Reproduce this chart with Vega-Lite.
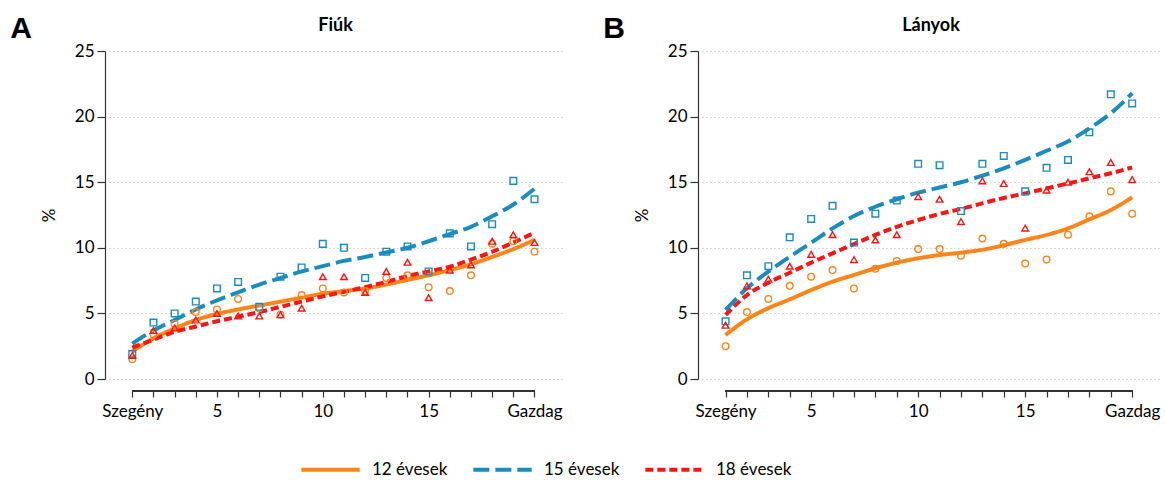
{
  "$schema": "https://vega.github.io/schema/vega-lite/v6.json",
  "background": "white",
  "padding": {"left": 10, "top": 14, "right": 5, "bottom": 5},
  "datasets": {
    "pontok": [
      {"nem": "Fiúk", "kor": "12 évesek", "x": 1, "y": 1.5}, {"nem": "Fiúk", "kor": "12 évesek", "x": 2, "y": 3.4}, {"nem": "Fiúk", "kor": "12 évesek", "x": 3, "y": 4.2}, {"nem": "Fiúk", "kor": "12 évesek", "x": 4, "y": 5.1}, {"nem": "Fiúk", "kor": "12 évesek", "x": 5, "y": 5.3}, {"nem": "Fiúk", "kor": "12 évesek", "x": 6, "y": 6.1}, {"nem": "Fiúk", "kor": "12 évesek", "x": 7, "y": 5.4}, {"nem": "Fiúk", "kor": "12 évesek", "x": 8, "y": 4.9}, {"nem": "Fiúk", "kor": "12 évesek", "x": 9, "y": 6.4}, {"nem": "Fiúk", "kor": "12 évesek", "x": 10, "y": 6.9},
      {"nem": "Fiúk", "kor": "12 évesek", "x": 11, "y": 6.6}, {"nem": "Fiúk", "kor": "12 évesek", "x": 12, "y": 6.7}, {"nem": "Fiúk", "kor": "12 évesek", "x": 13, "y": 7.7}, {"nem": "Fiúk", "kor": "12 évesek", "x": 14, "y": 7.9}, {"nem": "Fiúk", "kor": "12 évesek", "x": 15, "y": 7.0}, {"nem": "Fiúk", "kor": "12 évesek", "x": 16, "y": 6.7}, {"nem": "Fiúk", "kor": "12 évesek", "x": 17, "y": 7.9}, {"nem": "Fiúk", "kor": "12 évesek", "x": 18, "y": 10.3}, {"nem": "Fiúk", "kor": "12 évesek", "x": 19, "y": 10.5}, {"nem": "Fiúk", "kor": "12 évesek", "x": 20, "y": 9.7},
      {"nem": "Fiúk", "kor": "15 évesek", "x": 1, "y": 1.9}, {"nem": "Fiúk", "kor": "15 évesek", "x": 2, "y": 4.3}, {"nem": "Fiúk", "kor": "15 évesek", "x": 3, "y": 5.0}, {"nem": "Fiúk", "kor": "15 évesek", "x": 4, "y": 5.9}, {"nem": "Fiúk", "kor": "15 évesek", "x": 5, "y": 6.9}, {"nem": "Fiúk", "kor": "15 évesek", "x": 6, "y": 7.4}, {"nem": "Fiúk", "kor": "15 évesek", "x": 7, "y": 5.5}, {"nem": "Fiúk", "kor": "15 évesek", "x": 8, "y": 7.8}, {"nem": "Fiúk", "kor": "15 évesek", "x": 9, "y": 8.5}, {"nem": "Fiúk", "kor": "15 évesek", "x": 10, "y": 10.3},
      {"nem": "Fiúk", "kor": "15 évesek", "x": 11, "y": 10.0}, {"nem": "Fiúk", "kor": "15 évesek", "x": 12, "y": 7.7}, {"nem": "Fiúk", "kor": "15 évesek", "x": 13, "y": 9.7}, {"nem": "Fiúk", "kor": "15 évesek", "x": 14, "y": 10.1}, {"nem": "Fiúk", "kor": "15 évesek", "x": 15, "y": 8.2}, {"nem": "Fiúk", "kor": "15 évesek", "x": 16, "y": 11.1}, {"nem": "Fiúk", "kor": "15 évesek", "x": 17, "y": 10.1}, {"nem": "Fiúk", "kor": "15 évesek", "x": 18, "y": 11.8}, {"nem": "Fiúk", "kor": "15 évesek", "x": 19, "y": 15.1}, {"nem": "Fiúk", "kor": "15 évesek", "x": 20, "y": 13.7},
      {"nem": "Fiúk", "kor": "18 évesek", "x": 1, "y": 1.8}, {"nem": "Fiúk", "kor": "18 évesek", "x": 2, "y": 3.7}, {"nem": "Fiúk", "kor": "18 évesek", "x": 3, "y": 3.9}, {"nem": "Fiúk", "kor": "18 évesek", "x": 4, "y": 4.5}, {"nem": "Fiúk", "kor": "18 évesek", "x": 5, "y": 5.0}, {"nem": "Fiúk", "kor": "18 évesek", "x": 6, "y": 4.8}, {"nem": "Fiúk", "kor": "18 évesek", "x": 7, "y": 4.8}, {"nem": "Fiúk", "kor": "18 évesek", "x": 8, "y": 4.9}, {"nem": "Fiúk", "kor": "18 évesek", "x": 9, "y": 5.4}, {"nem": "Fiúk", "kor": "18 évesek", "x": 10, "y": 7.8},
      {"nem": "Fiúk", "kor": "18 évesek", "x": 11, "y": 7.8}, {"nem": "Fiúk", "kor": "18 évesek", "x": 12, "y": 6.6}, {"nem": "Fiúk", "kor": "18 évesek", "x": 13, "y": 8.2}, {"nem": "Fiúk", "kor": "18 évesek", "x": 14, "y": 8.9}, {"nem": "Fiúk", "kor": "18 évesek", "x": 15, "y": 6.2}, {"nem": "Fiúk", "kor": "18 évesek", "x": 16, "y": 8.3}, {"nem": "Fiúk", "kor": "18 évesek", "x": 17, "y": 8.7}, {"nem": "Fiúk", "kor": "18 évesek", "x": 18, "y": 10.5}, {"nem": "Fiúk", "kor": "18 évesek", "x": 19, "y": 11.0}, {"nem": "Fiúk", "kor": "18 évesek", "x": 20, "y": 10.4},
      {"nem": "Lányok", "kor": "12 évesek", "x": 1, "y": 2.5}, {"nem": "Lányok", "kor": "12 évesek", "x": 2, "y": 5.1}, {"nem": "Lányok", "kor": "12 évesek", "x": 3, "y": 6.1}, {"nem": "Lányok", "kor": "12 évesek", "x": 4, "y": 7.1}, {"nem": "Lányok", "kor": "12 évesek", "x": 5, "y": 7.8}, {"nem": "Lányok", "kor": "12 évesek", "x": 6, "y": 8.3}, {"nem": "Lányok", "kor": "12 évesek", "x": 7, "y": 6.9}, {"nem": "Lányok", "kor": "12 évesek", "x": 8, "y": 8.4}, {"nem": "Lányok", "kor": "12 évesek", "x": 9, "y": 9.0}, {"nem": "Lányok", "kor": "12 évesek", "x": 10, "y": 9.9},
      {"nem": "Lányok", "kor": "12 évesek", "x": 11, "y": 9.9}, {"nem": "Lányok", "kor": "12 évesek", "x": 12, "y": 9.4}, {"nem": "Lányok", "kor": "12 évesek", "x": 13, "y": 10.7}, {"nem": "Lányok", "kor": "12 évesek", "x": 14, "y": 10.3}, {"nem": "Lányok", "kor": "12 évesek", "x": 15, "y": 8.8}, {"nem": "Lányok", "kor": "12 évesek", "x": 16, "y": 9.1}, {"nem": "Lányok", "kor": "12 évesek", "x": 17, "y": 11.0}, {"nem": "Lányok", "kor": "12 évesek", "x": 18, "y": 12.4}, {"nem": "Lányok", "kor": "12 évesek", "x": 19, "y": 14.3}, {"nem": "Lányok", "kor": "12 évesek", "x": 20, "y": 12.6},
      {"nem": "Lányok", "kor": "15 évesek", "x": 1, "y": 4.4}, {"nem": "Lányok", "kor": "15 évesek", "x": 2, "y": 7.9}, {"nem": "Lányok", "kor": "15 évesek", "x": 3, "y": 8.6}, {"nem": "Lányok", "kor": "15 évesek", "x": 4, "y": 10.8}, {"nem": "Lányok", "kor": "15 évesek", "x": 5, "y": 12.2}, {"nem": "Lányok", "kor": "15 évesek", "x": 6, "y": 13.2}, {"nem": "Lányok", "kor": "15 évesek", "x": 7, "y": 10.4}, {"nem": "Lányok", "kor": "15 évesek", "x": 8, "y": 12.6}, {"nem": "Lányok", "kor": "15 évesek", "x": 9, "y": 13.6}, {"nem": "Lányok", "kor": "15 évesek", "x": 10, "y": 16.4},
      {"nem": "Lányok", "kor": "15 évesek", "x": 11, "y": 16.3}, {"nem": "Lányok", "kor": "15 évesek", "x": 12, "y": 12.8}, {"nem": "Lányok", "kor": "15 évesek", "x": 13, "y": 16.4}, {"nem": "Lányok", "kor": "15 évesek", "x": 14, "y": 17.0}, {"nem": "Lányok", "kor": "15 évesek", "x": 15, "y": 14.3}, {"nem": "Lányok", "kor": "15 évesek", "x": 16, "y": 16.1}, {"nem": "Lányok", "kor": "15 évesek", "x": 17, "y": 16.7}, {"nem": "Lányok", "kor": "15 évesek", "x": 18, "y": 18.8}, {"nem": "Lányok", "kor": "15 évesek", "x": 19, "y": 21.7}, {"nem": "Lányok", "kor": "15 évesek", "x": 20, "y": 21.0},
      {"nem": "Lányok", "kor": "18 évesek", "x": 1, "y": 4.1}, {"nem": "Lányok", "kor": "18 évesek", "x": 2, "y": 7.1}, {"nem": "Lányok", "kor": "18 évesek", "x": 3, "y": 7.6}, {"nem": "Lányok", "kor": "18 évesek", "x": 4, "y": 8.6}, {"nem": "Lányok", "kor": "18 évesek", "x": 5, "y": 9.5}, {"nem": "Lányok", "kor": "18 évesek", "x": 6, "y": 11.0}, {"nem": "Lányok", "kor": "18 évesek", "x": 7, "y": 9.1}, {"nem": "Lányok", "kor": "18 évesek", "x": 8, "y": 10.6}, {"nem": "Lányok", "kor": "18 évesek", "x": 9, "y": 11.0}, {"nem": "Lányok", "kor": "18 évesek", "x": 10, "y": 13.9},
      {"nem": "Lányok", "kor": "18 évesek", "x": 11, "y": 13.7}, {"nem": "Lányok", "kor": "18 évesek", "x": 12, "y": 12.0}, {"nem": "Lányok", "kor": "18 évesek", "x": 13, "y": 15.1}, {"nem": "Lányok", "kor": "18 évesek", "x": 14, "y": 14.9}, {"nem": "Lányok", "kor": "18 évesek", "x": 15, "y": 11.5}, {"nem": "Lányok", "kor": "18 évesek", "x": 16, "y": 14.4}, {"nem": "Lányok", "kor": "18 évesek", "x": 17, "y": 15.0}, {"nem": "Lányok", "kor": "18 évesek", "x": 18, "y": 15.8}, {"nem": "Lányok", "kor": "18 évesek", "x": 19, "y": 16.5}, {"nem": "Lányok", "kor": "18 évesek", "x": 20, "y": 15.2}
    ],
    "gorbek": [
      {"nem": "Fiúk", "kor": "12 évesek", "x": 1, "y": 2.1}, {"nem": "Fiúk", "kor": "12 évesek", "x": 2, "y": 3.1}, {"nem": "Fiúk", "kor": "12 évesek", "x": 3, "y": 3.85}, {"nem": "Fiúk", "kor": "12 évesek", "x": 4, "y": 4.5}, {"nem": "Fiúk", "kor": "12 évesek", "x": 5, "y": 4.95}, {"nem": "Fiúk", "kor": "12 évesek", "x": 6, "y": 5.3}, {"nem": "Fiúk", "kor": "12 évesek", "x": 7, "y": 5.6}, {"nem": "Fiúk", "kor": "12 évesek", "x": 8, "y": 5.9}, {"nem": "Fiúk", "kor": "12 évesek", "x": 9, "y": 6.2}, {"nem": "Fiúk", "kor": "12 évesek", "x": 10, "y": 6.5},
      {"nem": "Fiúk", "kor": "12 évesek", "x": 11, "y": 6.7}, {"nem": "Fiúk", "kor": "12 évesek", "x": 12, "y": 6.9}, {"nem": "Fiúk", "kor": "12 évesek", "x": 13, "y": 7.2}, {"nem": "Fiúk", "kor": "12 évesek", "x": 14, "y": 7.55}, {"nem": "Fiúk", "kor": "12 évesek", "x": 15, "y": 7.9}, {"nem": "Fiúk", "kor": "12 évesek", "x": 16, "y": 8.3}, {"nem": "Fiúk", "kor": "12 évesek", "x": 17, "y": 8.75}, {"nem": "Fiúk", "kor": "12 évesek", "x": 18, "y": 9.3}, {"nem": "Fiúk", "kor": "12 évesek", "x": 19, "y": 9.9}, {"nem": "Fiúk", "kor": "12 évesek", "x": 20, "y": 10.6},
      {"nem": "Fiúk", "kor": "15 évesek", "x": 1, "y": 2.7}, {"nem": "Fiúk", "kor": "15 évesek", "x": 2, "y": 3.7}, {"nem": "Fiúk", "kor": "15 évesek", "x": 3, "y": 4.5}, {"nem": "Fiúk", "kor": "15 évesek", "x": 4, "y": 5.3}, {"nem": "Fiúk", "kor": "15 évesek", "x": 5, "y": 6.0}, {"nem": "Fiúk", "kor": "15 évesek", "x": 6, "y": 6.6}, {"nem": "Fiúk", "kor": "15 évesek", "x": 7, "y": 7.2}, {"nem": "Fiúk", "kor": "15 évesek", "x": 8, "y": 7.7}, {"nem": "Fiúk", "kor": "15 évesek", "x": 9, "y": 8.2}, {"nem": "Fiúk", "kor": "15 évesek", "x": 10, "y": 8.6},
      {"nem": "Fiúk", "kor": "15 évesek", "x": 11, "y": 9.0}, {"nem": "Fiúk", "kor": "15 évesek", "x": 12, "y": 9.3}, {"nem": "Fiúk", "kor": "15 évesek", "x": 13, "y": 9.65}, {"nem": "Fiúk", "kor": "15 évesek", "x": 14, "y": 10.0}, {"nem": "Fiúk", "kor": "15 évesek", "x": 15, "y": 10.5}, {"nem": "Fiúk", "kor": "15 évesek", "x": 16, "y": 11.05}, {"nem": "Fiúk", "kor": "15 évesek", "x": 17, "y": 11.6}, {"nem": "Fiúk", "kor": "15 évesek", "x": 18, "y": 12.4}, {"nem": "Fiúk", "kor": "15 évesek", "x": 19, "y": 13.3}, {"nem": "Fiúk", "kor": "15 évesek", "x": 20, "y": 14.5},
      {"nem": "Fiúk", "kor": "18 évesek", "x": 1, "y": 2.4}, {"nem": "Fiúk", "kor": "18 évesek", "x": 2, "y": 3.0}, {"nem": "Fiúk", "kor": "18 évesek", "x": 3, "y": 3.6}, {"nem": "Fiúk", "kor": "18 évesek", "x": 4, "y": 4.0}, {"nem": "Fiúk", "kor": "18 évesek", "x": 5, "y": 4.4}, {"nem": "Fiúk", "kor": "18 évesek", "x": 6, "y": 4.75}, {"nem": "Fiúk", "kor": "18 évesek", "x": 7, "y": 5.1}, {"nem": "Fiúk", "kor": "18 évesek", "x": 8, "y": 5.5}, {"nem": "Fiúk", "kor": "18 évesek", "x": 9, "y": 5.9}, {"nem": "Fiúk", "kor": "18 évesek", "x": 10, "y": 6.3},
      {"nem": "Fiúk", "kor": "18 évesek", "x": 11, "y": 6.65}, {"nem": "Fiúk", "kor": "18 évesek", "x": 12, "y": 7.0}, {"nem": "Fiúk", "kor": "18 évesek", "x": 13, "y": 7.4}, {"nem": "Fiúk", "kor": "18 évesek", "x": 14, "y": 7.85}, {"nem": "Fiúk", "kor": "18 évesek", "x": 15, "y": 8.2}, {"nem": "Fiúk", "kor": "18 évesek", "x": 16, "y": 8.56}, {"nem": "Fiúk", "kor": "18 évesek", "x": 17, "y": 9.1}, {"nem": "Fiúk", "kor": "18 évesek", "x": 18, "y": 9.7}, {"nem": "Fiúk", "kor": "18 évesek", "x": 19, "y": 10.4}, {"nem": "Fiúk", "kor": "18 évesek", "x": 20, "y": 11.15},
      {"nem": "Lányok", "kor": "12 évesek", "x": 1, "y": 3.35}, {"nem": "Lányok", "kor": "12 évesek", "x": 2, "y": 4.55}, {"nem": "Lányok", "kor": "12 évesek", "x": 3, "y": 5.4}, {"nem": "Lányok", "kor": "12 évesek", "x": 4, "y": 6.07}, {"nem": "Lányok", "kor": "12 évesek", "x": 5, "y": 6.78}, {"nem": "Lányok", "kor": "12 évesek", "x": 6, "y": 7.42}, {"nem": "Lányok", "kor": "12 évesek", "x": 7, "y": 7.93}, {"nem": "Lányok", "kor": "12 évesek", "x": 8, "y": 8.44}, {"nem": "Lányok", "kor": "12 évesek", "x": 9, "y": 8.87}, {"nem": "Lányok", "kor": "12 évesek", "x": 10, "y": 9.2},
      {"nem": "Lányok", "kor": "12 évesek", "x": 11, "y": 9.45}, {"nem": "Lányok", "kor": "12 évesek", "x": 12, "y": 9.63}, {"nem": "Lányok", "kor": "12 évesek", "x": 13, "y": 9.85}, {"nem": "Lányok", "kor": "12 évesek", "x": 14, "y": 10.2}, {"nem": "Lányok", "kor": "12 évesek", "x": 15, "y": 10.6}, {"nem": "Lányok", "kor": "12 évesek", "x": 16, "y": 10.98}, {"nem": "Lányok", "kor": "12 évesek", "x": 17, "y": 11.48}, {"nem": "Lányok", "kor": "12 évesek", "x": 18, "y": 12.17}, {"nem": "Lányok", "kor": "12 évesek", "x": 19, "y": 12.88}, {"nem": "Lányok", "kor": "12 évesek", "x": 20, "y": 13.85},
      {"nem": "Lányok", "kor": "15 évesek", "x": 1, "y": 5.26}, {"nem": "Lányok", "kor": "15 évesek", "x": 2, "y": 6.91}, {"nem": "Lányok", "kor": "15 évesek", "x": 3, "y": 8.18}, {"nem": "Lányok", "kor": "15 évesek", "x": 4, "y": 9.32}, {"nem": "Lányok", "kor": "15 évesek", "x": 5, "y": 10.39}, {"nem": "Lányok", "kor": "15 évesek", "x": 6, "y": 11.48}, {"nem": "Lányok", "kor": "15 évesek", "x": 7, "y": 12.42}, {"nem": "Lányok", "kor": "15 évesek", "x": 8, "y": 13.13}, {"nem": "Lányok", "kor": "15 évesek", "x": 9, "y": 13.7}, {"nem": "Lányok", "kor": "15 évesek", "x": 10, "y": 14.2},
      {"nem": "Lányok", "kor": "15 évesek", "x": 11, "y": 14.6}, {"nem": "Lányok", "kor": "15 évesek", "x": 12, "y": 15.0}, {"nem": "Lányok", "kor": "15 évesek", "x": 13, "y": 15.5}, {"nem": "Lányok", "kor": "15 évesek", "x": 14, "y": 16.06}, {"nem": "Lányok", "kor": "15 évesek", "x": 15, "y": 16.7}, {"nem": "Lányok", "kor": "15 évesek", "x": 16, "y": 17.4}, {"nem": "Lányok", "kor": "15 évesek", "x": 17, "y": 18.1}, {"nem": "Lányok", "kor": "15 évesek", "x": 18, "y": 19.1}, {"nem": "Lányok", "kor": "15 évesek", "x": 19, "y": 20.25}, {"nem": "Lányok", "kor": "15 évesek", "x": 20, "y": 21.78},
      {"nem": "Lányok", "kor": "18 évesek", "x": 1, "y": 4.88}, {"nem": "Lányok", "kor": "18 évesek", "x": 2, "y": 6.4}, {"nem": "Lányok", "kor": "18 évesek", "x": 3, "y": 7.34}, {"nem": "Lányok", "kor": "18 évesek", "x": 4, "y": 8.1}, {"nem": "Lányok", "kor": "18 évesek", "x": 5, "y": 8.87}, {"nem": "Lányok", "kor": "18 évesek", "x": 6, "y": 9.58}, {"nem": "Lányok", "kor": "18 évesek", "x": 7, "y": 10.29}, {"nem": "Lányok", "kor": "18 évesek", "x": 8, "y": 10.98}, {"nem": "Lányok", "kor": "18 évesek", "x": 9, "y": 11.6}, {"nem": "Lányok", "kor": "18 évesek", "x": 10, "y": 12.12},
      {"nem": "Lányok", "kor": "18 évesek", "x": 11, "y": 12.58}, {"nem": "Lányok", "kor": "18 évesek", "x": 12, "y": 12.96}, {"nem": "Lányok", "kor": "18 évesek", "x": 13, "y": 13.39}, {"nem": "Lányok", "kor": "18 évesek", "x": 14, "y": 13.8}, {"nem": "Lányok", "kor": "18 évesek", "x": 15, "y": 14.15}, {"nem": "Lányok", "kor": "18 évesek", "x": 16, "y": 14.53}, {"nem": "Lányok", "kor": "18 évesek", "x": 17, "y": 14.9}, {"nem": "Lányok", "kor": "18 évesek", "x": 18, "y": 15.3}, {"nem": "Lányok", "kor": "18 évesek", "x": 19, "y": 15.68}, {"nem": "Lányok", "kor": "18 évesek", "x": 20, "y": 16.13}
    ]
  },
  "config": {
    "font": "Lato",
    "view": {"stroke": null},
    "axis": {
      "labelFont": "Lato", "labelFontSize": 17, "labelColor": "#000",
      "titleFont": "Lato", "titleFontSize": 17, "titleFontWeight": "normal", "titleColor": "#000",
      "domainColor": "#333", "tickColor": "#333", "domainWidth": 1.2, "tickWidth": 1.2,
      "gridColor": "#b0b0b0", "gridDash": [1, 3], "gridWidth": 1
    },
    "title": {"font": "Lato", "fontSize": 18, "fontWeight": "bold", "color": "#000"},
    "legend": {"labelFont": "Lato", "labelFontSize": 17, "labelColor": "#000"},
    "point": {"filled": false, "strokeWidth": 1.4, "size": 44, "opacity": 1}
  },
  "spacing": 40,
  "hconcat": [
    {
      "title": {"text": "A", "anchor": "start", "frame": "bounds", "font": "Liberation Sans", "fontSize": 30, "fontWeight": "bold", "dx": -30, "dy": 27, "offset": 0},
      "vconcat": [
        {
          "title": {"text": "Fiúk", "offset": 7},
          "width": 453,
          "height": 328,
          "data": {"name": "pontok"},
          "transform": [{"filter": "datum.nem === 'Fiúk'"}],
          "encoding": {
            "x": {"field": "x", "type": "quantitative", "scale": {"domain": [-0.1, 21.3], "nice": false, "zero": false},
              "axis": {"title": null, "values": [1,2,3,4,5,6,7,8,9,10,11,12,13,14,15,16,17,18,19,20], "tickCount": 40, "labelExpr": "datum.value == 1 ? 'Szegény' : datum.value == 20 ? 'Gazdag' : (datum.value % 5 == 0 ? '' + datum.value : '')", "labelOverlap": false, "labelFlush": false, "offset": 12, "tickSize": 6, "domain": false, "grid": false, "labelPadding": 6}},
            "y": {"field": "y", "type": "quantitative", "scale": {"domain": [0, 25], "nice": false},
              "axis": {"title": "%", "values": [0, 5, 10, 15, 20, 25], "tickCount": 10, "offset": 4, "tickSize": 8, "labelPadding": 3, "titlePadding": 16, "grid": true}}
          },
          "layer": [
            {
              "data": {"name": "gorbek"},
              "transform": [{"filter": "datum.nem === 'Fiúk'"}],
              "mark": {"type": "line", "strokeWidth": 4, "interpolate": "monotone"},
              "encoding": {
                "color": {"field": "kor", "type": "nominal", "scale": {"domain": ["12 évesek", "15 évesek", "18 évesek"], "range": ["#ff8419", "#1a8cc0", "#ff1414"]},
                  "legend": {"orient": "none", "legendX": 190, "legendY": 387, "direction": "horizontal", "title": null, "symbolType": "stroke", "symbolSize": 3400, "symbolStrokeWidth": 4, "columnPadding": 17, "labelOffset": 10}},
                "strokeDash": {"field": "kor", "type": "nominal", "scale": {"domain": ["12 évesek", "15 évesek", "18 évesek"], "range": [[1, 0], [16, 6], [8, 4]]},
                  "legend": {"orient": "none", "legendX": 190, "legendY": 387, "direction": "horizontal", "title": null, "symbolType": "stroke", "symbolSize": 3400, "symbolStrokeWidth": 4, "columnPadding": 17, "labelOffset": 10}}
              }
            },
            {"transform": [{"filter": "datum.kor === '12 évesek'"}], "mark": {"type": "point", "shape": "circle", "color": "#ff8419"}},
            {"transform": [{"filter": "datum.kor === '15 évesek'"}], "mark": {"type": "point", "shape": "square", "color": "#1a8cc0"}},
            {"transform": [{"filter": "datum.kor === '18 évesek'"}], "mark": {"type": "point", "shape": "triangle-up", "color": "#ff1414"}},
            {
              "mark": {"type": "rule", "color": "#333", "strokeWidth": 1.2},
              "encoding": {"x": {"datum": 1}, "x2": {"datum": 20}, "y": {"datum": -0.95}}
            }
          ]
        }
      ]
    },
    {
      "title": {"text": "B", "anchor": "start", "frame": "bounds", "font": "Liberation Sans", "fontSize": 30, "fontWeight": "bold", "dx": -30, "dy": 27, "offset": 0},
      "vconcat": [
        {
          "title": {"text": "Lányok", "offset": 7},
          "width": 458,
          "height": 328,
          "data": {"name": "pontok"},
          "transform": [{"filter": "datum.nem === 'Lányok'"}],
          "encoding": {
            "x": {"field": "x", "type": "quantitative", "scale": {"domain": [-0.1, 21.3], "nice": false, "zero": false},
              "axis": {"title": null, "values": [1,2,3,4,5,6,7,8,9,10,11,12,13,14,15,16,17,18,19,20], "tickCount": 40, "labelExpr": "datum.value == 1 ? 'Szegény' : datum.value == 20 ? 'Gazdag' : (datum.value % 5 == 0 ? '' + datum.value : '')", "labelOverlap": false, "labelFlush": false, "offset": 12, "tickSize": 6, "domain": false, "grid": false, "labelPadding": 6}},
            "y": {"field": "y", "type": "quantitative", "scale": {"domain": [0, 25], "nice": false},
              "axis": {"title": "%", "values": [0, 5, 10, 15, 20, 25], "tickCount": 10, "offset": 4, "tickSize": 8, "labelPadding": 3, "titlePadding": 16, "grid": true}}
          },
          "layer": [
            {
              "data": {"name": "gorbek"},
              "transform": [{"filter": "datum.nem === 'Lányok'"}],
              "mark": {"type": "line", "strokeWidth": 4, "interpolate": "monotone"},
              "encoding": {
                "color": {"field": "kor", "type": "nominal", "legend": {"orient": "none", "legendX": 190, "legendY": 387, "direction": "horizontal", "title": null, "symbolType": "stroke", "symbolSize": 3400, "symbolStrokeWidth": 4, "columnPadding": 17, "labelOffset": 10}},
                "strokeDash": {"field": "kor", "type": "nominal", "legend": {"orient": "none", "legendX": 190, "legendY": 387, "direction": "horizontal", "title": null, "symbolType": "stroke", "symbolSize": 3400, "symbolStrokeWidth": 4, "columnPadding": 17, "labelOffset": 10}}
              }
            },
            {"transform": [{"filter": "datum.kor === '12 évesek'"}], "mark": {"type": "point", "shape": "circle", "color": "#ff8419"}},
            {"transform": [{"filter": "datum.kor === '15 évesek'"}], "mark": {"type": "point", "shape": "square", "color": "#1a8cc0"}},
            {"transform": [{"filter": "datum.kor === '18 évesek'"}], "mark": {"type": "point", "shape": "triangle-up", "color": "#ff1414"}},
            {
              "mark": {"type": "rule", "color": "#333", "strokeWidth": 1.2},
              "encoding": {"x": {"datum": 1}, "x2": {"datum": 20}, "y": {"datum": -0.95}}
            }
          ]
        }
      ]
    }
  ]
}
